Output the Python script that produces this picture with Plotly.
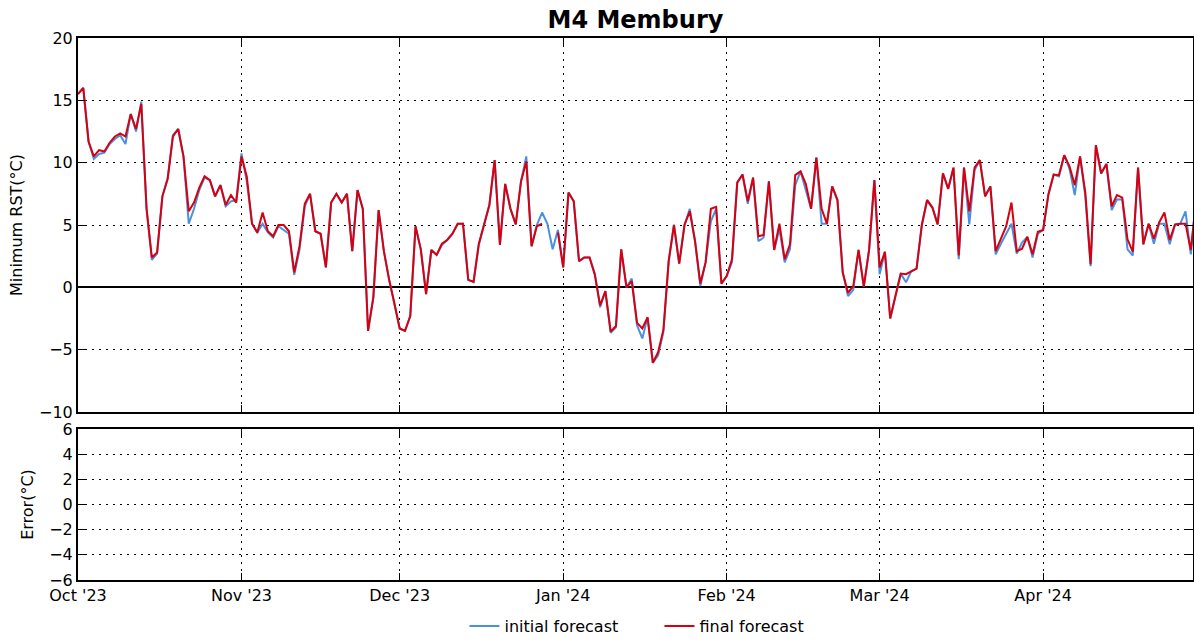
import numpy as np
import pandas as pd
import plotly.graph_objects as go
from plotly.subplots import make_subplots

start_date = "2023-10-01"

final_forecast = [
    15.5, 16.0, 11.7, 10.5, 11.0, 10.9, 11.6, 12.1, 12.35, 12.1,
    13.9, 12.7, 14.7, 6.3, 2.4, 2.8, 7.3, 8.7, 12.1, 12.7,
    10.5, 6.1, 6.8, 8.0, 8.9, 8.6, 7.3, 8.2, 6.6, 7.4,
    6.8, 10.5, 8.9, 5.1, 4.4, 6.0, 4.5, 4.1, 5.0, 5.0,
    4.5, 1.2, 3.3, 6.7, 7.5, 4.5, 4.3, 1.6, 6.8, 7.5,
    6.8, 7.5, 2.9, 7.8, 6.3, -3.5, -0.8, 6.2, 2.9, 0.6,
    -1.3, -3.3, -3.5, -2.3, 4.9, 3.05, -0.55, 3.0, 2.6, 3.5,
    3.8, 4.3, 5.1, 5.1, 0.6, 0.45, 3.5, 5.0, 6.6, 10.2,
    3.4, 8.3, 6.3, 5.05, 8.5, 10.1, 3.3, 4.9, 5.1, None,
    None, 4.4, 1.6, 7.6, 6.9, 2.1, 2.4, 2.4, 1.0, -1.45,
    -0.3, -3.55, -3.1, 3.05, 0.0, 0.5, -2.85, -3.3, -2.4, -6.05,
    -5.2, -3.4, 2.1, 5.0, 1.9, 5.0, 6.1, 3.7, 0.3, 2.0,
    6.3, 6.45, 0.3, 0.9, 2.25, 8.4, 9.05, 6.9, 8.8, 4.1,
    4.2, 8.5, 3.0, 5.1, 2.25, 3.45, 9.0, 9.3, 8.3, 6.3,
    10.4, 6.3, 5.1, 8.1, 7.0, 1.2, -0.45, 0.1, 3.0, 0.05,
    3.0, 8.6, 1.6, 2.85, -2.5, -0.7, 1.1, 1.05, 1.3, 1.5,
    5.0, 7.0, 6.4, 5.05, 9.15, 7.9, 9.6, 2.55, 9.6, 6.1,
    9.6, 10.2, 7.3, 8.1, 2.9, 3.9, 4.9, 6.8, 2.9, 3.1,
    4.05, 2.65, 4.45, 4.6, 7.45, 9.05, 9.0, 10.6, 9.7, 8.2,
    10.5, 7.6, 1.85, 11.4, 9.15, 9.9, 6.5, 7.4, 7.2, 3.85,
    2.85, 9.6, 3.45, 5.1, 3.9, 5.2, 6.0, 3.8, 5.05, 5.1,
    5.1, 3.0, 7.0,
]

initial_forecast = [
    15.5, 16.0, 11.7, 10.3, 10.7, 10.8, 11.5, 11.9, 12.2, 11.5,
    13.9, 12.5, 14.9, 6.3, 2.2, 2.7, 7.3, 8.7, 12.2, 12.7,
    10.5, 5.1, 6.3, 7.8, 8.8, 8.6, 7.3, 8.2, 6.5, 6.9,
    7.0, 10.75, 8.5, 5.1, 4.4, 5.1, 4.4, 4.0, 4.9, 4.6,
    4.3, 1.0, 3.0, 6.5, 7.5, 4.5, 4.3, 1.6, 6.8, 7.5,
    6.8, 7.5, 2.9, 7.8, 6.3, -3.5, -0.8, 6.2, 2.9, 0.6,
    -1.3, -3.3, -3.5, -2.3, 4.9, 3.05, -0.55, 3.0, 2.6, 3.4,
    3.8, 4.3, 5.1, 5.1, 0.6, 0.4, 3.4, 5.0, 6.6, 10.2,
    3.4, 8.3, 6.3, 5.05, 8.5, 10.5, 3.3, 5.0, 6.0, 5.1,
    3.05, 4.6, 1.6, 7.6, 6.9, 2.1, 2.4, 2.4, 1.1, -1.6,
    -0.3, -3.65, -3.2, 3.05, 0.0, 0.7, -3.05, -4.1, -2.4, -6.05,
    -5.45, -3.6, 2.1, 5.0, 1.9, 5.0, 6.3, 3.7, 0.1, 2.0,
    5.3, 6.3, 0.3, 0.9, 2.0, 8.4, 9.05, 6.7, 8.8, 3.7,
    4.0, 8.5, 3.0, 4.7, 2.0, 3.05, 8.2, 9.3, 7.9, 6.3,
    10.4, 5.1, 5.1, 8.1, 7.0, 1.2, -0.7, -0.2, 3.0, 0.05,
    3.0, 8.6, 1.05, 2.85, -2.5, -0.7, 1.1, 0.4, 1.3, 1.5,
    5.0, 7.0, 6.4, 5.05, 9.15, 7.9, 9.6, 2.25, 9.6, 5.05,
    9.4, 10.2, 7.3, 8.1, 2.65, 3.5, 4.25, 5.1, 2.7, 3.6,
    4.05, 2.4, 4.3, 4.6, 7.45, 9.05, 8.9, 10.6, 9.5, 7.4,
    10.5, 7.3, 1.7, 11.4, 9.1, 9.9, 6.2, 7.05, 7.05, 3.05,
    2.55, 9.6, 3.45, 5.1, 3.5, 5.1, 5.1, 3.45, 5.0, 5.1,
    6.1, 2.65, 7.0,
]

# The error panel of the reference has no data drawn
error_values = []

dates = pd.date_range(start_date, periods=len(final_forecast), freq="D")

top_yticks = [-10, -5, 0, 5, 10, 15, 20]
bottom_yticks = [-6, -4, -2, 0, 2, 4, 6]
x_range = ["2023-10-01", "2024-04-29 10:00"]

BLUE = "#4a90e2"
RED = "#d7000f"
FONT = "DejaVu Sans"
FS = 16

fig = make_subplots(rows=2, cols=1, shared_xaxes=True)

fig.add_trace(go.Scatter(x=dates, y=initial_forecast, mode="lines", name="initial forecast",
                         line=dict(color=BLUE, width=2), connectgaps=False), row=1, col=1)
fig.add_trace(go.Scatter(x=dates, y=final_forecast, mode="lines", name="final forecast",
                         line=dict(color=RED, width=2), connectgaps=False), row=1, col=1)
fig.add_trace(go.Scatter(x=list(dates[:len(error_values)]), y=error_values, mode="lines", name="error",
                         showlegend=False, hoverinfo="skip", line=dict(color=RED, width=2)),
              row=2, col=1)

H = 641
plot_top, plot_bottom = 38, 580
ph = plot_bottom - plot_top
top_dom = [(plot_bottom - 412) / ph, 1.0]
bot_dom = [0.0, (plot_bottom - 429) / ph]

grid_common = dict(showgrid=True, gridcolor="black", gridwidth=1, griddash="2px,5px",
                   showline=True, linecolor="black", linewidth=2, mirror="ticks",
                   ticks="inside", ticklen=7, tickwidth=1, tickcolor="black",
                   tickfont=dict(family=FONT, size=FS, color="black"))

fig.update_xaxes(type="date", range=x_range, dtick="M1", tick0="2023-10-01", tickformat="%b '%y",
                 zeroline=False, **grid_common)
fig.update_xaxes(showticklabels=False, row=1, col=1)
fig.update_xaxes(showticklabels=True, row=2, col=1)

fig.update_yaxes(range=[-10, 20], tickvals=top_yticks, zeroline=True, zerolinecolor="black",
                 zerolinewidth=2, domain=top_dom,
                 title=dict(text="Minimum RST(°C)", font=dict(family=FONT, size=FS, color="black"), standoff=12),
                 row=1, col=1, **grid_common)
fig.update_yaxes(range=[-6, 6], tickvals=bottom_yticks, zeroline=False, domain=bot_dom,
                 title=dict(text="Error(°C)", font=dict(family=FONT, size=FS, color="black"), standoff=12),
                 row=2, col=1, **grid_common)

fig.update_layout(
    width=1194, height=641,
    margin=dict(l=78, r=1, t=plot_top, b=H - plot_bottom, autoexpand=False),
    paper_bgcolor="white", plot_bgcolor="white",
    font=dict(family=FONT, size=FS, color="black"),
    title=dict(text="<b>M4 Membury</b>", x=0.5322, xanchor="center", y=1 - 20 / H, yanchor="middle",
               font=dict(family=FONT, size=24, color="black")),
    legend=dict(orientation="h", x=0.5215, xanchor="center", y=-(626 - plot_bottom) / ph, yanchor="middle",
                font=dict(family=FONT, size=FS, color="black"), entrywidth=150, entrywidthmode="pixels"),
    showlegend=True,
)

fig.write_html("out.html", config={"displayModeBar": False},
               post_script="document.body.style.margin='0px';")
